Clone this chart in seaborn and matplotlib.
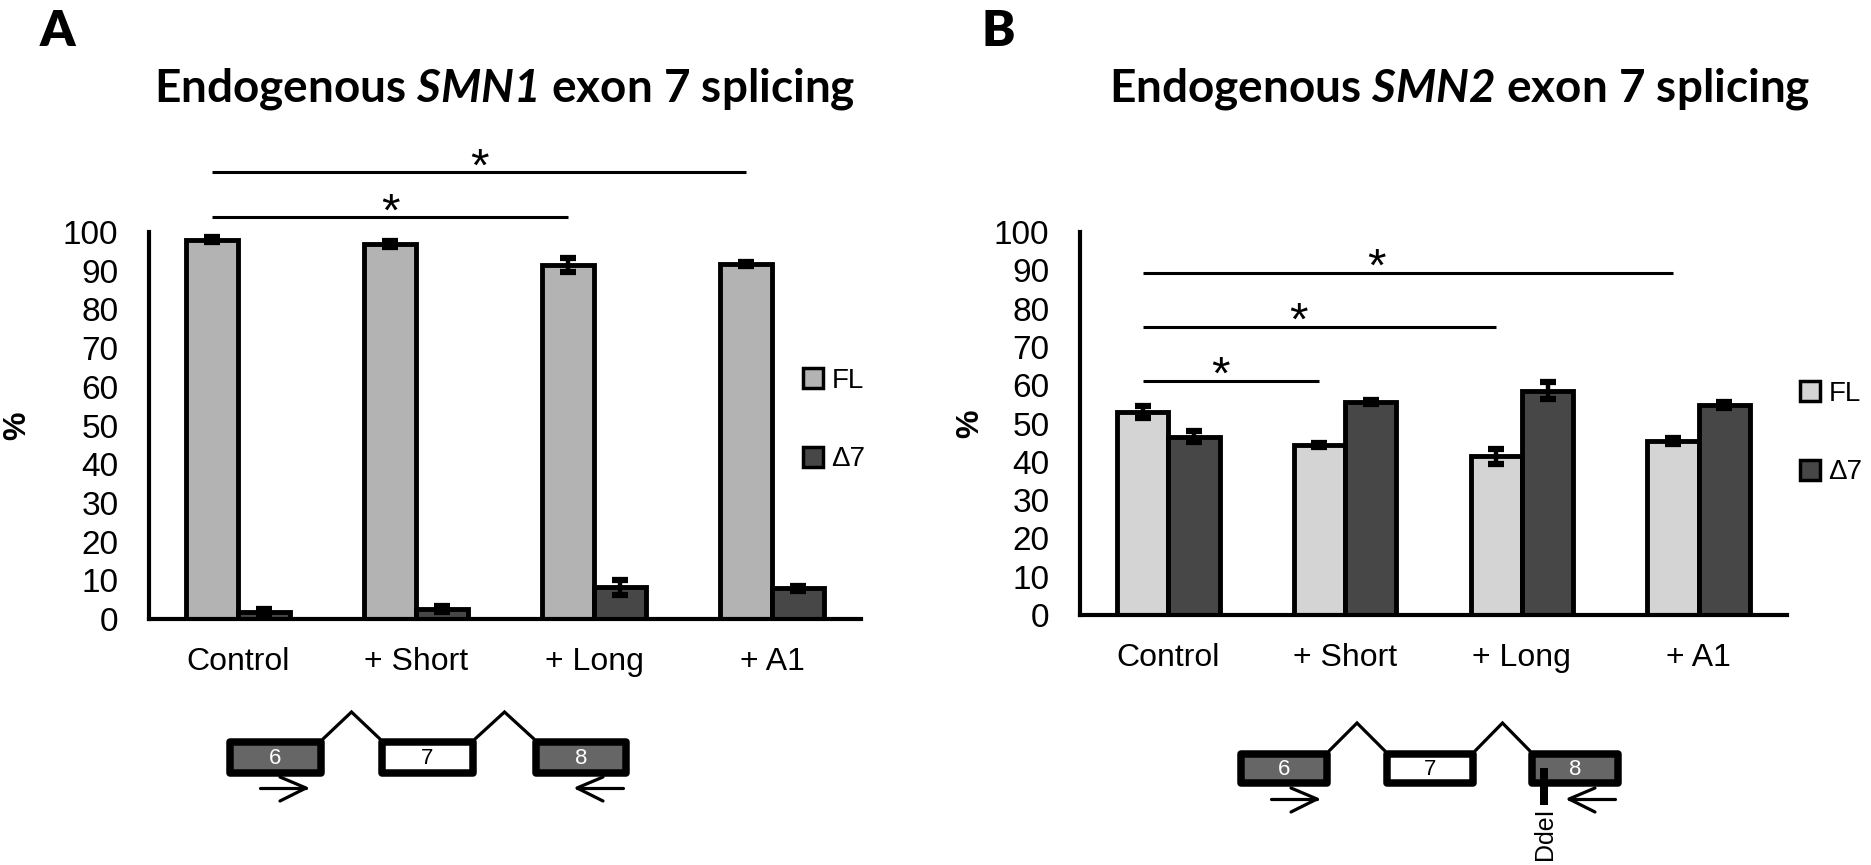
import matplotlib
matplotlib.use("Agg")
import pandas as pd
import matplotlib.pyplot as plt
import seaborn as sns
from matplotlib.patches import Rectangle, Patch

# ---- data ----
categories = ["Control", "+ Short", "+ Long", "+ A1"]
isoforms = ["FL", "Δ7"]

smn1_fl = [98.0, 97.0, 91.5, 91.7]
smn1_fl_err = [0.7, 0.8, 1.8, 0.5]
smn1_d7 = [1.7, 2.6, 8.2, 7.9]
smn1_d7_err = [0.9, 0.8, 1.9, 0.6]

smn2_fl = [53.0, 44.4, 41.4, 45.4]
smn2_fl_err = [1.5, 0.5, 2.0, 0.7]
smn2_d7 = [46.6, 55.6, 58.6, 54.8]
smn2_d7_err = [1.5, 0.5, 2.2, 0.7]

# significance brackets: (group a, group b) and height in %
smn1_sig = [(0, 2), (0, 3)]
smn1_sig_y = [103.9, 115.5]
smn2_sig = [(0, 1), (0, 2), (0, 3)]
smn2_sig_y = [61.2, 75.3, 89.4]

W, H = 1871, 865

sns.set_style("white")
plt.rcParams["font.family"] = ["Liberation Sans", "DejaVu Sans"]
for key in ["text.color", "axes.labelcolor", "xtick.color", "ytick.color", "axes.edgecolor"]:
    plt.rcParams[key] = "black"
plt.rcParams["mathtext.fontset"] = "custom"
plt.rcParams["mathtext.it"] = "Lato:italic:bold"
plt.rcParams["mathtext.rm"] = "Lato:italic:bold"

fig = plt.figure(figsize=(W / 100, H / 100), dpi=100)


def px_rect(x0, y_top, x1, y_bot):
    # figure-fraction rect from pixel box
    return [x0 / W, 1 - y_bot / H, (x1 - x0) / W, (y_bot - y_top) / H]


def draw_panel(ax, fl, fl_err, d7, d7_err, colors, sig, sig_y, star_frac,
               legend_anchor, ylabel_x):
    df = pd.DataFrame({
        "group": categories * 2,
        "isoform": [isoforms[0]] * len(categories) + [isoforms[1]] * len(categories),
        "value": fl + d7,
    })
    sns.barplot(data=df, x="group", y="value", hue="isoform", order=categories,
                hue_order=isoforms, palette=colors, saturation=1, width=0.58,
                edgecolor="black", linewidth=3.5, errorbar=None, legend=False, ax=ax)

    # error bars on top of each bar
    for bars, err in zip(ax.containers, [fl_err, d7_err]):
        xs = [b.get_x() + b.get_width() / 2 for b in bars]
        hs = [b.get_height() for b in bars]
        ax.errorbar(xs, hs, yerr=err, fmt="none", ecolor="black", elinewidth=3.2,
                    capsize=5.5, capthick=4.5, zorder=5)

    ax.set_xlim(-0.5, 3.5)
    ax.set_ylim(0, 100)
    ax.set_yticks(range(0, 101, 10))
    sns.despine(ax=ax)
    for s in ["left", "bottom"]:
        ax.spines[s].set_linewidth(3)
    ax.tick_params(axis="y", length=9, width=3, direction="out", pad=13, labelsize=24)
    ax.set_xticks(range(len(categories)))
    ax.set_xticklabels(categories)
    ax.set_xticks([i - 0.5 for i in range(len(categories) + 1)], minor=True)
    ax.tick_params(axis="x", which="major", length=0, pad=20, labelsize=23)
    ax.tick_params(axis="x", which="minor", length=9, width=3, direction="out")
    ax.set_xlabel("")
    ax.set_ylabel("%", fontsize=23, fontweight="bold")
    ax.yaxis.set_label_coords(ylabel_x, 0.5)

    # significance lines
    fl_x = [b.get_x() + b.get_width() / 2 for b in ax.containers[0]]
    for (i, j), y in zip(sig, sig_y):
        ax.plot([fl_x[i], fl_x[j]], [y, y], color="black", lw=2.2, clip_on=False,
                solid_capstyle="butt")
        xm = fl_x[i] + star_frac * (fl_x[j] - fl_x[i])
        ax.annotate("*", (xm, y), xytext=(0, -6), textcoords="offset points",
                    ha="center", va="baseline", fontsize=34, annotation_clip=False)

    handles = [Patch(facecolor=colors[k], edgecolor="black", linewidth=2.5, label=k)
               for k in isoforms]
    ax.legend(handles=handles, loc="center left", bbox_to_anchor=legend_anchor,
              bbox_transform=fig.transFigure, frameon=False, fontsize=20,
              handlelength=0.72, handleheight=0.72, handletextpad=0.3,
              labelspacing=1.9, borderpad=0, borderaxespad=0)


ax_a = fig.add_axes(px_rect(149, 232, 861, 619))
draw_panel(ax_a, smn1_fl, smn1_fl_err, smn1_d7, smn1_d7_err,
           {"FL": "#b3b3b3", "Δ7": "#474747"}, smn1_sig, smn1_sig_y, 0.5,
           (803 / W, 1 - 420 / H), -0.164)

ax_b = fig.add_axes(px_rect(1080, 232, 1787, 615))
draw_panel(ax_b, smn2_fl, smn2_fl_err, smn2_d7, smn2_d7_err,
           {"FL": "#d4d4d4", "Δ7": "#474747"}, smn2_sig, smn2_sig_y, 0.44,
           (1800 / W, 1 - 433 / H), -0.134)

# ---- overlay for titles, panel letters and exon schematics (pixel coords) ----
ov = fig.add_axes([0, 0, 1, 1])
ov.set_xlim(0, W)
ov.set_ylim(H, 0)
ov.axis("off")
ov.patch.set_visible(False)

ov.text(40, 46, "A", fontsize=36, fontweight="heavy", family="Lato", va="baseline")
ov.text(982, 46, "B", fontsize=36, fontweight="heavy", family="Lato", va="baseline")
ov.text(505, 101, r"Endogenous $SMN1$ exon 7 splicing", fontsize=33,
        fontweight="bold", family="Lato", ha="center", va="baseline")
ov.text(1460, 101, r"Endogenous $SMN2$ exon 7 splicing", fontsize=33,
        fontweight="bold", family="Lato", ha="center", va="baseline")


def exon_schematic(boxes, y_top, y_bot, peak_y, arrow_y, ddei_x=None):
    lw = 7.5
    fills = ["#666666", "white", "#666666"]
    tcols = ["white", "black", "white"]
    for (x0, x1), fc, tc, lab in zip(boxes, fills, tcols, ["6", "7", "8"]):
        ov.add_patch(Rectangle((x0 + lw / 2, y_top + lw / 2), x1 - x0 - lw, y_bot - y_top - lw,
                               facecolor=fc, edgecolor="black", linewidth=lw * 0.72,
                               joinstyle="round"))
        ov.text((x0 + x1) / 2, (y_top + y_bot) / 2 + 1, lab, color=tc, fontsize=16,
                ha="center", va="center")
    for a, b in [(0, 1), (1, 2)]:
        xa, xb = boxes[a][1] - 2, boxes[b][0] + 2
        ov.plot([xa, (xa + xb) / 2, xb], [y_top + 1, peak_y, y_top + 1], color="black",
                lw=2.3, solid_joinstyle="miter")
    # primers
    f0 = boxes[0][0] + 34
    ov.plot([f0, f0 + 46], [arrow_y, arrow_y], color="black", lw=2.3)
    ov.plot([f0 + 20, f0 + 46, f0 + 20], [arrow_y - 11, arrow_y, arrow_y + 13],
            color="black", lw=2.3)
    r0 = boxes[2][1] - 7
    ov.plot([r0, r0 - 46], [arrow_y, arrow_y], color="black", lw=2.3)
    ov.plot([r0 - 20, r0 - 46, r0 - 20], [arrow_y - 11, arrow_y, arrow_y + 13],
            color="black", lw=2.3)
    if ddei_x is not None:
        ov.add_patch(Rectangle((ddei_x - 4, y_top + 18), 8, 37, facecolor="black",
                               edgecolor="none"))
        ov.text(ddei_x + 1, y_top + 58, "DdeI", rotation=90, fontsize=18, ha="center",
                va="top")


exon_schematic([(226, 325), (378, 477), (532, 630)], 738, 777, 712, 788)
exon_schematic([(1237, 1331), (1383, 1477), (1528, 1622)], 750, 787, 723, 799, ddei_x=1544)

fig.savefig("out.png", dpi=100)
